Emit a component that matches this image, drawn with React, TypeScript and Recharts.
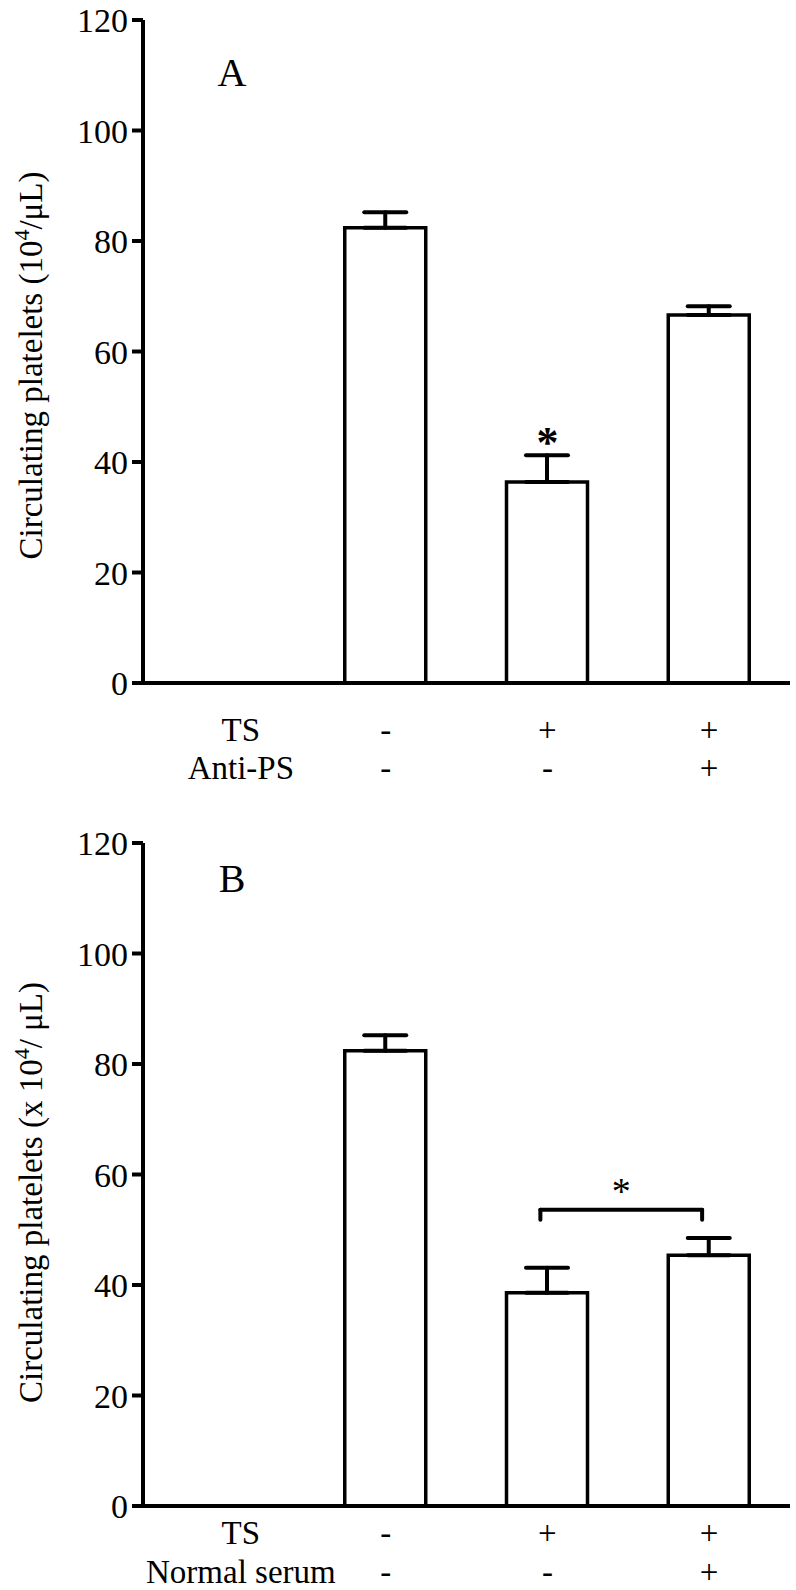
import { Bar, BarChart, ErrorBar, ReferenceDot, ReferenceLine, XAxis, YAxis } from 'recharts';

const conditions = ['blank', 'control', 'ts', 'tsTreated'];
const tsRow = ['TS', '-', '+', '+'];
const antiPsRow = ['Anti-PS', '-', '-', '+'];
const normalSerumRow = ['Normal serum', '-', '-', '+'];

const plateletsA = [null, 82.4, 36.4, 66.6];
const semA = [null, 2.8, 4.8, 1.6];
const plateletsB = [null, 82.4, 38.6, 45.4];
const semB = [null, 2.8, 4.5, 3.1];

const yTicks = [0, 20, 40, 60, 80, 100, 120];
const bracketB = { from: 'ts', to: 'tsTreated', top: 53.6, drop: 51.8 };

const FONT = 'Liberation Serif, Times New Roman, serif';

function buildRows(values: (number | null)[], sems: (number | null)[]) {
  return conditions.map((c, i) => ({
    cond: c,
    value: values[i],
    err: sems[i] == null ? null : [0, sems[i]],
  }));
}

function RowTick(props: any) {
  const { x, y, payload, rows, baselines } = props;
  const idx = payload.index ?? props.index;
  return (
    <g>
      {rows.map((row: string[], r: number) => (
        <text
          key={r}
          x={x + (idx === 0 ? 17 : 0)}
          y={y + baselines[r]}
          textAnchor="middle"
          style={{ fontFamily: FONT }}
          fontSize={33}
          fill="#000"
        >
          {row[idx]}
        </text>
      ))}
    </g>
  );
}

function YLabel(props: any) {
  const { viewBox, prefix, suffix, shift } = props;
  const cy = viewBox.y + viewBox.height / 2 + shift;
  const x = 42;
  return (
    <text
      x={x}
      y={cy}
      transform={`rotate(-90 ${x} ${cy})`}
      textAnchor="middle"
      style={{ fontFamily: FONT }}
      fontSize={33}
      fill="#000"
    >
      {prefix}
      <tspan dy={-13} fontSize={22}>4</tspan>
      <tspan dy={13}>{suffix}</tspan>
    </text>
  );
}

// shift the bracket a little left, as in the figure
function BracketLine(props: any) {
  const { x1, y1, x2, y2 } = props;
  return <line x1={x1 - 7} y1={y1} x2={x2 - 7} y2={y2} stroke="#000" strokeWidth={4} strokeLinecap="round" />;
}

interface PanelProps {
  letter: string;
  letterY: number;
  values: (number | null)[];
  sems: (number | null)[];
  row2: string[];
  height: number;
  marginTop: number;
  xAxisHeight: number;
  baselines: number[];
  labelPrefix: string;
  labelSuffix: string;
  labelShift: number;
  bracket?: boolean;
}

function Panel(p: PanelProps) {
  const data = buildRows(p.values, p.sems);
  return (
    <div style={{ position: 'relative', width: 796, height: p.height }}>
      <BarChart
        width={796}
        height={p.height}
        data={data}
        margin={{ top: p.marginTop, right: 6, bottom: 0, left: 0 }}
        barSize={81}
      >
        <XAxis
          dataKey="cond"
          height={p.xAxisHeight}
          axisLine={{ stroke: '#000', strokeWidth: 4 }}
          tickLine={false}
          tickSize={0}
          tickMargin={0}
          interval={0}
          tick={<RowTick rows={[tsRow, p.row2]} baselines={p.baselines} />}
        />
        <YAxis
          width={143}
          domain={[0, 120]}
          ticks={yTicks}
          interval={0}
          axisLine={{ stroke: '#000', strokeWidth: 4 }}
          tickLine={{ stroke: '#000', strokeWidth: 4 }}
          tickSize={11}
          tickMargin={4}
          tick={{ fill: '#000', fontSize: 34, fontFamily: FONT }}
          label={<YLabel prefix={p.labelPrefix} suffix={p.labelSuffix} shift={p.labelShift} />}
        />
        <Bar dataKey="value" fill="#fff" stroke="#000" strokeWidth={3.5} isAnimationActive={false}>
          <ErrorBar
            dataKey="err"
            direction="y"
            width={21}
            stroke="#000"
            strokeWidth={4}
            strokeLinecap="round"
            isAnimationActive={false}
          />
        </Bar>
        {!p.bracket && (
          <ReferenceDot
            x="ts"
            y={(p.values[2] ?? 0) + (p.sems[2] ?? 0)}
            r={0}
            label={{ value: '*', position: 'top', offset: -2, fontSize: 44, fontWeight: 'bold', fontFamily: FONT, fill: '#000' }}
          />
        )}
        {p.bracket && (
          <ReferenceLine
            segment={[
              { x: bracketB.from, y: bracketB.top },
              { x: bracketB.to, y: bracketB.top },
            ]}
            shape={BracketLine}
            label={{ value: '*', position: 'top', offset: 6, dx: -7, fontSize: 38, fontFamily: FONT, fill: '#000' }}
          />
        )}
        {p.bracket && (
          <ReferenceLine
            segment={[
              { x: bracketB.from, y: bracketB.top },
              { x: bracketB.from, y: bracketB.drop },
            ]}
            shape={BracketLine}
          />
        )}
        {p.bracket && (
          <ReferenceLine
            segment={[
              { x: bracketB.to, y: bracketB.top },
              { x: bracketB.to, y: bracketB.drop },
            ]}
            shape={BracketLine}
          />
        )}
      </BarChart>
      <svg style={{ position: 'absolute', left: 0, top: 0 }} width={300} height={120}>
        <text x={232} y={p.letterY} textAnchor="middle" style={{ fontFamily: FONT }} fontSize={40} fill="#000">
          {p.letter}
        </text>
      </svg>
    </div>
  );
}

export default function App() {
  return (
    <div
      style={{
        position: 'absolute',
        left: 0,
        top: 0,
        width: 796,
        height: 1590,
        background: '#fff',
        fontFamily: FONT,
      }}
    >
      <Panel
        letter="A"
        letterY={86}
        values={plateletsA}
        sems={semA}
        row2={antiPsRow}
        height={800}
        marginTop={20}
        xAxisHeight={117}
        baselines={[58, 96]}
        labelPrefix="Circulating platelets (10"
        labelSuffix="/μL)"
        labelShift={14}
      />
      <Panel
        letter="B"
        letterY={92}
        values={plateletsB}
        sems={semB}
        row2={normalSerumRow}
        height={790}
        marginTop={43}
        xAxisHeight={84}
        baselines={[38, 77]}
        labelPrefix="Circulating platelets (x 10"
        labelSuffix="/ μL)"
        labelShift={18}
        bracket
      />
    </div>
  );
}
